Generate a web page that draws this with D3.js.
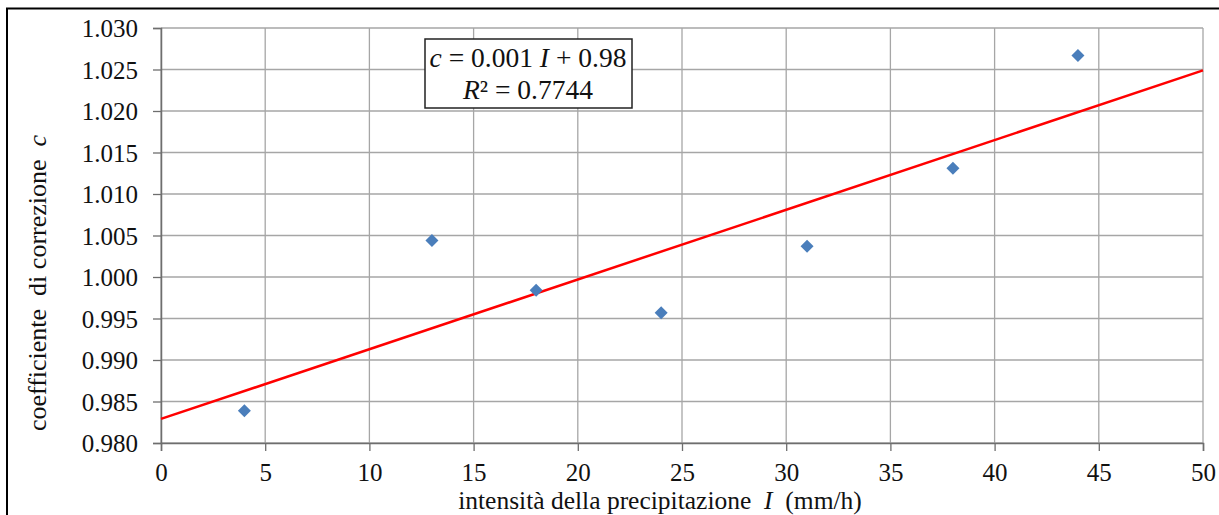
<!DOCTYPE html>
<html>
<head>
<meta charset="utf-8">
<style>
  body { margin: 0; background: #fff; }
  svg { display: block; font-family: "Liberation Serif", "Times New Roman", serif; }
</style>
</head>
<body>
<div id="chart"></div>
<script src="https://cdn.jsdelivr.net/npm/d3@7"></script>
<script>
// measured values
var intensity = [4, 13, 18, 24, 31, 38, 44];
var coeff = [0.9839, 1.0044, 0.9984, 0.9957, 1.0037, 1.0131, 1.0267];
var xTicks = [0, 5, 10, 15, 20, 25, 30, 35, 40, 45, 50];
var yTicks = [0.980, 0.985, 0.990, 0.995, 1.000, 1.005, 1.010, 1.015, 1.020, 1.025, 1.030];
// trend line as drawn on the chart
var trendIntercept = 0.9829;
var trendSlope = 0.00084;

var W = 1219, H = 515;
var plotL = 161, plotR = 1203, plotT = 28, plotB = 443;

var svg = d3.select("#chart").append("svg")
  .attr("width", W).attr("height", H);

// outer frame
svg.append("rect")
  .attr("x", 7).attr("y", 8.5)
  .attr("width", 1400).attr("height", 800)
  .attr("fill", "none").attr("stroke", "#000").attr("stroke-width", 2);

var x = d3.scaleLinear().domain([0, 50]).range([plotL, plotR]);
var y = d3.scaleLinear().domain([0.980, 1.030]).range([plotB, plotT]);

// grid
svg.append("g").selectAll("line")
  .data(yTicks)
  .enter().append("line")
    .attr("x1", plotL).attr("x2", plotR)
    .attr("y1", function(d){ return y(d) }).attr("y2", function(d){ return y(d) })
    .attr("stroke", "#a6a6a6").attr("stroke-width", 1.3);

svg.append("g").selectAll("line")
  .data(xTicks)
  .enter().append("line")
    .attr("x1", function(d){ return x(d) }).attr("x2", function(d){ return x(d) })
    .attr("y1", plotT).attr("y2", plotB)
    .attr("stroke", "#a6a6a6").attr("stroke-width", 1.3);

// axes
var yAxis = svg.append("g")
  .attr("transform", "translate(" + plotL + ",0)")
  .call(d3.axisLeft(y).tickValues(yTicks).tickSize(8).tickPadding(15)
    .tickFormat(d3.format(".3f")));
var xAxis = svg.append("g")
  .attr("transform", "translate(0," + plotB + ")")
  .call(d3.axisBottom(x).tickValues(xTicks).tickSize(8).tickPadding(14)
    .tickFormat(d3.format("d")));

[xAxis, yAxis].forEach(function(a){
  a.select(".domain").attr("stroke", "#6e6e6e").attr("stroke-width", 1.5);
  a.selectAll(".tick line").attr("stroke", "#6e6e6e").attr("stroke-width", 1.3);
  a.selectAll("text")
    .attr("font-family", "Liberation Serif, serif")
    .attr("font-size", "25px").attr("fill", "#111");
});
yAxis.selectAll("text").attr("dy", "0.34em");
xAxis.selectAll("text").attr("dy", "0.64em");

// trend line
svg.append("line")
  .attr("x1", x(0)).attr("y1", y(trendIntercept))
  .attr("x2", x(50)).attr("y2", y(trendIntercept + trendSlope * 50))
  .attr("stroke", "#ff0000").attr("stroke-width", 2.5);

// points
svg.append("g").selectAll("path")
  .data(intensity)
  .enter().append("path")
    .attr("transform", function(d, i){ return "translate(" + x(d) + "," + y(coeff[i]) + ")" })
    .attr("d", "M0,-6.5L6.5,0L0,6.5L-6.5,0Z")
    .attr("fill", "#4a7ebb");

// equation box
svg.append("rect")
  .attr("x", 425).attr("y", 39)
  .attr("width", 207).attr("height", 69)
  .attr("fill", "#fff").attr("stroke", "#222").attr("stroke-width", 1.5);

var eq1 = svg.append("text")
  .attr("x", 528).attr("y", 67)
  .attr("text-anchor", "middle").attr("font-size", "27.5px").attr("fill", "#111");
eq1.append("tspan").attr("font-style", "italic").text("c");
eq1.append("tspan").text(" = 0.001 ");
eq1.append("tspan").attr("font-style", "italic").text("I");
eq1.append("tspan").text(" + 0.98");

var eq2 = svg.append("text")
  .attr("x", 528).attr("y", 99)
  .attr("text-anchor", "middle").attr("font-size", "27.5px").attr("fill", "#111");
eq2.append("tspan").attr("font-style", "italic").text("R");
eq2.append("tspan").text("² = 0.7744");

// axis titles
var xt = svg.append("text")
  .attr("x", 660).attr("y", 509)
  .attr("text-anchor", "middle").attr("font-size", "25.5px").attr("fill", "#111")
  .attr("xml:space", "preserve");
xt.append("tspan").text("intensità della precipitazione  ");
xt.append("tspan").attr("font-style", "italic").text("I");
xt.append("tspan").text("  (mm/h)");

var yt = svg.append("text")
  .attr("transform", "translate(46,283) rotate(-90)")
  .attr("text-anchor", "middle").attr("font-size", "26px").attr("fill", "#111")
  .attr("xml:space", "preserve");
yt.append("tspan").text("coefficiente  di correzione  ");
yt.append("tspan").attr("font-style", "italic").text("c");
</script>
</body>
</html>
